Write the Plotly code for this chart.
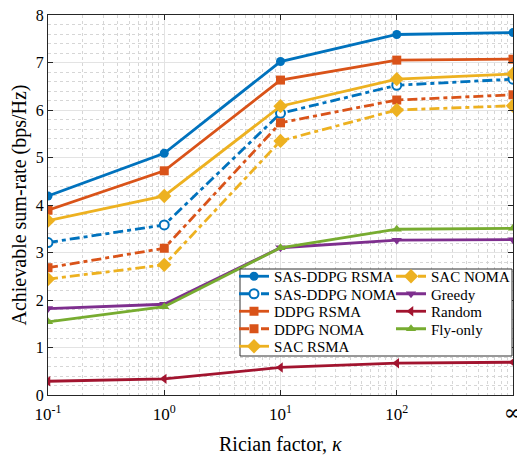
import plotly.graph_objects as go

# ---- data ----
kappa = [0.1, 1, 10, 100, 1000]          # last position stands for infinity
kappa_labels = ["10<sup>-1</sup>", "10<sup>0</sup>", "10<sup>1</sup>", "10<sup>2</sup>",
                '<span style="font-family:DejaVu Serif;font-size:22px">∞</span>']

sas_ddpg_rsma = [4.19, 5.09, 7.02, 7.59, 7.63]
sas_ddpg_noma = [3.21, 3.58, 5.93, 6.52, 6.65]
ddpg_rsma = [3.89, 4.72, 6.63, 7.05, 7.07]
ddpg_noma = [2.68, 3.09, 5.73, 6.21, 6.32]
sac_rsma = [3.67, 4.19, 6.08, 6.65, 6.76]
sac_noma = [2.44, 2.74, 5.35, 6.00, 6.09]
greedy = [1.82, 1.91, 3.10, 3.26, 3.27]
random_ = [0.29, 0.34, 0.58, 0.67, 0.69]
fly_only = [1.54, 1.86, 3.10, 3.49, 3.51]

BLUE, ORANGE, YELLOW = "#0072BD", "#D95319", "#EDB120"
PURPLE, GREEN, RED = "#7E2F8E", "#77AC30", "#A2142F"
FONT = "Liberation Serif, Times New Roman, serif"
NOMA_DASH = "10px,4px,4px,4px"

series = [
    # name, y, color, symbol, dash, open, legend slot (col,row)
    ("SAS-DDPG RSMA", sas_ddpg_rsma, BLUE, "circle", "solid", False, (0, 0)),
    ("SAS-DDPG NOMA", sas_ddpg_noma, BLUE, "circle", NOMA_DASH, True, (0, 1)),
    ("DDPG RSMA", ddpg_rsma, ORANGE, "square", "solid", False, (0, 2)),
    ("DDPG NOMA", ddpg_noma, ORANGE, "square", NOMA_DASH, False, (0, 3)),
    ("SAC RSMA", sac_rsma, YELLOW, "diamond", "solid", False, (0, 4)),
    ("SAC NOMA", sac_noma, YELLOW, "diamond", NOMA_DASH, False, (1, 0)),
    ("Greedy", greedy, PURPLE, "triangle-down", "solid", False, (1, 1)),
    ("Random", random_, RED, "triangle-left", "solid", False, (1, 2)),
    ("Fly-only", fly_only, GREEN, "triangle-up", "solid", False, (1, 3)),
]

# The page body adds an 8px offset, so the figure is 8px smaller than the window.
OFF = 8
W, H = 525 - OFF, 455 - OFF
ML, MR, MT, MB = 48 - OFF, 12, 15 - OFF, 60
PW, PH = W - ML - MR, H - MT - MB


def px2x(px):  # window pixel -> paper fraction
    return (px - OFF - ML) / PW


def px2y(py):
    return (H - MB - (py - OFF)) / PH


fig = go.Figure()
layout_legends = {}
col_x = [234, 391]
row_y0, row_dy = 276.5, 17.5
for i, (name, y, color, sym, dash, is_open, (c, r)) in enumerate(series):
    lg = "legend" if i == 0 else f"legend{i + 1}"
    fig.add_trace(go.Scatter(
        x=kappa, y=y, name=name, mode="lines+markers",
        line=dict(color=color, width=2.8, dash=dash),
        marker=dict(symbol=sym, size=9 if sym != "diamond" else 11,
                    color="white" if is_open else color,
                    line=dict(color=color, width=2 if is_open else 0)),
        legend=lg,
    ))
    layout_legends[lg] = dict(
        x=px2x(col_x[c]), y=px2y(row_y0 + r * row_dy),
        xanchor="left", yanchor="middle",
        bgcolor="rgba(0,0,0,0)", borderwidth=0,
        font=dict(family=FONT, size=15, color="#000000"),
        itemwidth=30, tracegroupgap=0,
    )

minor_x = [k * 10 ** n for n in range(-1, 3) for k in range(2, 10)]

fig.update_layout(
    width=W, height=H,
    margin=dict(l=ML, r=MR, t=MT, b=MB, autoexpand=False),
    paper_bgcolor="white", plot_bgcolor="white",
    font=dict(family=FONT, size=16, color="#000000"),
    showlegend=True,
    **layout_legends,
    shapes=[dict(
        type="rect", xref="paper", yref="paper", layer="above",
        x0=px2x(240), x1=px2x(512), y0=px2y(356), y1=px2y(269),
        fillcolor="white", line=dict(color="#333333", width=1),
    )],
    annotations=[dict(
        text="Rician factor, <i>κ</i>", xref="paper", yref="paper",
        x=0.5, y=px2y(444), xanchor="center", yanchor="middle",
        showarrow=False, font=dict(family=FONT, size=20, color="#000000"),
    )],
)

fig.update_xaxes(
    type="log", range=[-1, 3], automargin=False, ticklabeloverflow="allow",
    tickmode="array", tickvals=kappa, ticktext=kappa_labels,
    ticks="inside", ticklen=5, tickcolor="#262626",
    showline=True, linecolor="#262626", linewidth=1, mirror="ticks",
    showgrid=True, gridcolor="#e3e3e3", gridwidth=1,
    minor=dict(tickmode="array", tickvals=minor_x, showgrid=True,
               gridcolor="#d6d6d6", griddash="dot", ticks=""),
    tickfont=dict(family=FONT, size=17), ticklabelstandoff=4,
    zeroline=False,
)
fig.update_yaxes(
    range=[0, 8], dtick=1, tick0=0, automargin=False, ticklabeloverflow="allow",
    ticks="inside", ticklen=5, tickcolor="#262626",
    showline=True, linecolor="#262626", linewidth=1, mirror="ticks",
    showgrid=True, gridcolor="#e3e3e3", gridwidth=1,
    minor=dict(dtick=0.2, showgrid=True, gridcolor="#d6d6d6", griddash="dot", ticks=""),
    tickfont=dict(family=FONT, size=16),
    title=dict(text="Achievable sum-rate (bps/Hz)", font=dict(family=FONT, size=20), standoff=7),
    zeroline=False,
)

fig.write_html("out.html")
